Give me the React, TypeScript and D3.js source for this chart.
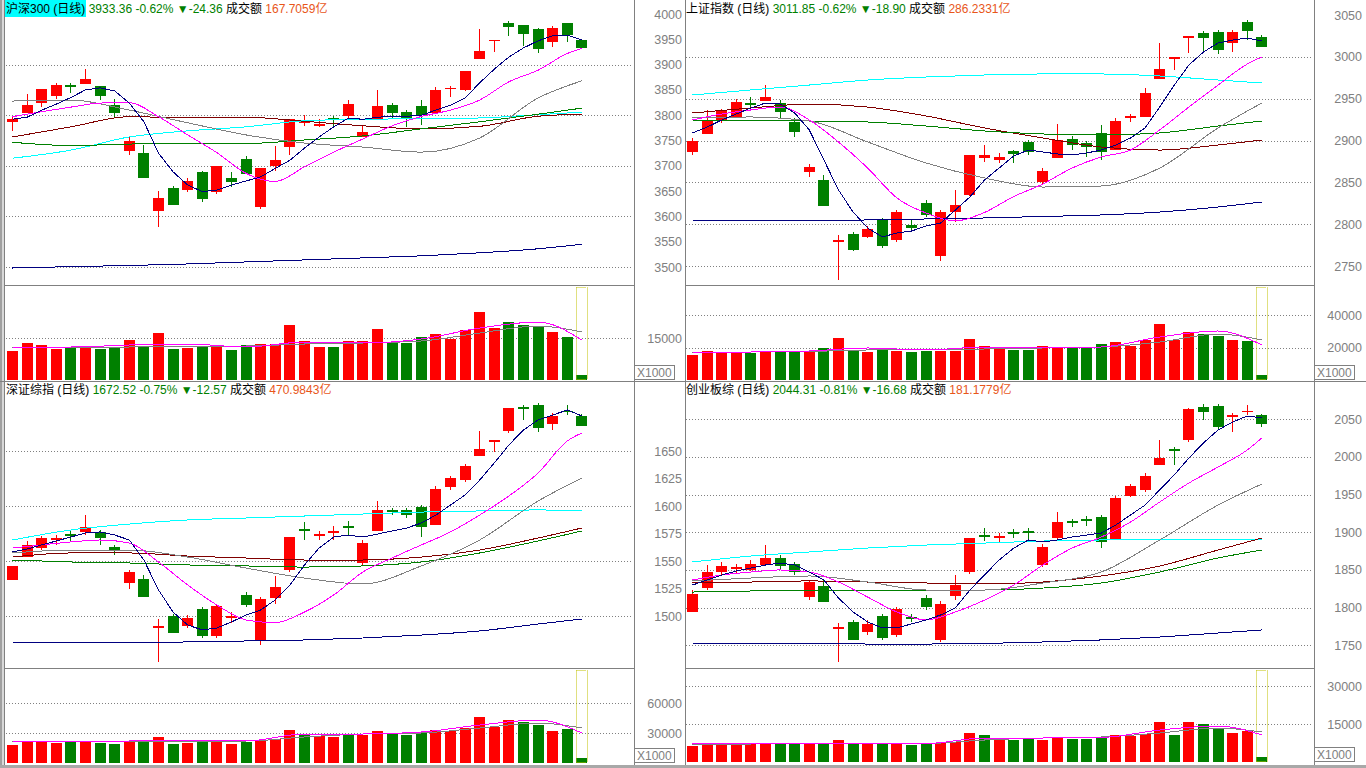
import React from 'react';
import * as d3 from 'd3';

type Candle = [number, number, number, number]; // open, high, low, close

// sample positions (candle index) of the moving-average readings
const IDX_ALL = d3.range(40);
const IDX_EVEN = [0, 2, 4, 6, 8, 10, 12, 14, 16, 18, 20, 22, 24, 26, 28, 30, 32, 34, 36, 38, 39];
const IDX_SPARSE = [0, 4, 8, 12, 16, 20, 24, 28, 32, 36, 39];

// ---------------- 沪深300 ----------------
const hs300Candles: Candle[] = [
  [3786, 3797, 3769, 3792], [3805, 3842, 3805, 3820], [3823.5, 3852, 3816, 3851], [3837, 3863, 3833, 3859],
  [3860, 3864, 3844.5, 3856], [3862, 3891, 3862, 3872], [3858, 3858, 3831, 3837], [3820, 3832, 3797, 3805],
  [3730, 3756, 3721, 3749], [3725, 3741, 3676, 3676.5], [3611, 3650, 3578.5, 3636], [3656, 3661, 3623, 3623],
  [3653, 3676.5, 3648, 3670], [3688, 3690, 3629, 3635], [3649, 3700, 3645, 3700], [3676, 3688, 3659, 3667],
  [3713.5, 3720, 3684, 3684], [3619, 3696, 3614, 3696], [3700, 3739, 3690, 3711.5], [3738, 3792, 3721, 3792],
  [3785, 3800, 3779, 3787], [3779, 3792.5, 3776, 3783], [3795, 3798, 3774, 3792], [3799, 3830, 3792, 3822],
  [3757.5, 3779, 3756, 3767], [3793, 3850, 3793, 3818], [3820, 3824, 3793, 3805], [3806, 3810, 3776, 3792.5],
  [3818, 3830, 3781, 3800], [3804, 3856, 3804, 3850], [3853, 3858, 3835, 3854.5], [3850, 3887, 3848, 3887],
  [3912, 3970, 3912, 3926], [3947, 3949, 3924, 3949], [3982, 3986, 3957, 3975], [3978, 3978, 3937, 3961],
  [3970, 3973, 3923.5, 3931], [3945, 3976, 3935, 3972], [3982, 3982, 3945, 3957.72], [3949, 3950.6, 3933, 3933.36],
];
const hs300Vol = [10460, 13316, 12495, 11174, 11674, 12138, 11174, 11674, 14280, 11781, 16779, 11067, 11424, 12138,
  12138, 10710, 12495, 12852, 12852, 19635, 13923, 11781, 11781, 13923, 13923, 18207, 13566, 13209, 15351, 16422,
  14637, 17850, 24276, 18564, 20706, 19635, 19278, 17136, 15351, 1785];
const hs300Ma5 = [3792, 3796, 3810, 3822, 3835, 3850, 3854, 3848, 3824, 3787, 3725, 3688, 3662, 3649, 3652, 3662, 3670,
  3678, 3695, 3711, 3735, 3757, 3777, 3794, 3792, 3796, 3798, 3798, 3800, 3810, 3820, 3834, 3864, 3891, 3915, 3933,
  3947, 3957, 3958, 3949];
const hs300Ma10 = [3797, 3807, 3816, 3824, 3825, 3797, 3761, 3726, 3685, 3669, 3698, 3727, 3753, 3779, 3797.5, 3810,
  3830, 3866, 3889, 3922, 3932];
const hs300Ma20 = [3828, 3830, 3810, 3785, 3761, 3745, 3737, 3727, 3755, 3834, 3868];
const hs300Ma30 = [3746.5, 3740, 3743, 3744, 3744, 3751, 3759, 3773, 3787, 3802, 3814];
const hs300Ma60 = [3757, 3777, 3797, 3795, 3796, 3788, 3779, 3773, 3778, 3798, 3802];
const hs300Ma120 = [3715, 3731, 3757, 3769, 3777, 3789, 3792, 3793, 3794.5, 3801, 3806];
const hs300Ma250 = [3498, 3500.7, 3503, 3506, 3510, 3514, 3518, 3522, 3528, 3536, 3545];
const hs300VolMa5 = [11781, 11781, 12495, 12852, 11781, 13566, 13209, 14637, 18564, 20706, 14280];
const hs300VolMa10 = [11424, 11603, 11781, 12138, 12138, 12852, 13209, 13923, 16779, 19278, 17136];
const hs300Ticks = [3500, 3550, 3600, 3650, 3700, 3750, 3800, 3850, 3900, 3950, 4000];
const hs300Grid = [3500, 3600, 3700, 3800, 3900];
const hs300VolTicks = [15000];

// ---------------- 上证指数 ----------------
const shCandles: Candle[] = [
  [2886, 2903, 2882.7, 2899.4], [2908, 2936.4, 2908, 2923], [2923, 2938, 2921, 2936.4], [2928, 2949.6, 2928, 2946],
  [2945, 2952, 2936.4, 2942.4], [2947, 2966, 2947, 2952], [2945, 2948, 2927, 2934], [2922, 2927, 2904, 2910],
  [2862, 2872, 2856, 2868], [2853, 2859, 2821.7, 2821.7], [2778.7, 2787, 2733, 2781], [2788, 2790.6, 2768, 2769],
  [2784.7, 2797.8, 2783.5, 2794], [2805, 2807.4, 2771.5, 2774], [2781, 2817, 2778.7, 2814.5], [2799, 2805, 2790.6, 2795.4],
  [2825.3, 2829, 2808.6, 2811], [2762, 2817, 2756, 2814.5], [2814.5, 2841, 2802.6, 2823], [2835, 2882.7, 2833.7, 2882.7],
  [2879, 2894.6, 2874, 2882.7], [2876.7, 2885, 2873, 2880], [2887.5, 2888.6, 2873, 2884], [2898, 2900.6, 2882.7, 2886],
  [2850.4, 2867, 2847, 2863.5], [2879, 2920, 2879, 2900.6], [2902, 2905, 2888.6, 2894.6], [2897, 2899.4, 2880, 2892],
  [2909, 2918.5, 2876.7, 2886], [2888.6, 2927, 2888.6, 2923], [2927, 2931.7, 2922, 2929], [2928, 2963, 2928, 2957],
  [2973.5, 3016.5, 2973.5, 2985.5], [2997.4, 3000, 2984, 3000], [3022.5, 3025, 3004.6, 3025], [3028.5, 3031, 3004.6, 3022.5],
  [3029.7, 3032, 3003.4, 3008], [3016.5, 3032, 3006, 3029.7], [3041.6, 3044, 3020, 3030.75], [3023.7, 3026, 3011.85, 3011.85],
];
const shVol = [15385, 17847, 17231, 16616, 16616, 17231, 17231, 17847, 17231, 19693, 25847, 18462, 17231, 18462, 17847,
  17231, 17847, 17847, 17847, 25231, 20924, 19077, 18462, 18462, 20924, 20308, 19693, 19693, 22154, 23385, 20924, 24616,
  34462, 24616, 29539, 28308, 27078, 24616, 24000, 3077];
const shMa5 = [2909, 2916, 2924.5, 2931.7, 2938.9, 2944.8, 2943.6, 2932.9, 2912.6, 2876.7, 2840.8, 2814.5, 2795.4,
  2784.7, 2789.4, 2791.8, 2797.8, 2801.4, 2816.9, 2832.5, 2852.8, 2867.1, 2881.5, 2888.6, 2886.3, 2883.9, 2882.7,
  2885.1, 2888.6, 2894.6, 2903, 2915, 2940, 2966.3, 2990.2, 3005.8, 3016.5, 3020.1, 3022.5, 3018.9];
const shMa10 = [2924.5, 2931.7, 2936.5, 2940, 2924.5, 2898.2, 2867.1, 2831.3, 2813.3, 2803.8, 2814, 2833, 2848,
  2867.1, 2880.3, 2888.6, 2912.6, 2940, 2966.3, 2991.4, 2999.8];
const shMa20 = [2926.9, 2928.1, 2923.3, 2898.2, 2873.1, 2855.2, 2844.4, 2845.6, 2867.1, 2915, 2944.8];
const shMa30 = [2924.5, 2924.5, 2923.3, 2922.1, 2917.3, 2911.4, 2907.8, 2906.6, 2909, 2917.3, 2923.3];
const shMa60 = [2932.9, 2938.9, 2943.6, 2940, 2929.3, 2915, 2903, 2892.2, 2888.6, 2894.6, 2900.6];
const shMa120 = [2954.4, 2960.4, 2966.3, 2972.3, 2975.9, 2978.3, 2979.5, 2979.5, 2977.1, 2972.3, 2968.7];
const shMa250 = [2803.8, 2803.8, 2804.4, 2805, 2806.2, 2807.4, 2809.2, 2811, 2814.5, 2820.5, 2826.5];
const shVolMa5 = [17231, 17231, 17847, 19693, 18462, 20308, 19693, 20308, 26462, 30155, 21539];
const shVolMa10 = [16924, 17231, 17539, 18462, 18462, 19077, 19693, 20308, 23385, 28308, 24616];
const shTicks = [2750, 2800, 2850, 2900, 2950, 3000, 3050];
const shGrid = [2750, 2800, 2850, 2900, 2950, 3000];
const shVolTicks = [20000, 40000];

// ---------------- 深证综指 ----------------
const szCandles: Candle[] = [
  [1532.7, 1545.5, 1532.7, 1545.5], [1553.6, 1568, 1553.6, 1564.5], [1562, 1572.7, 1560, 1571], [1569, 1573.6, 1564.5, 1571],
  [1574.5, 1577, 1568, 1572.7], [1576.4, 1592, 1573.6, 1581], [1576.4, 1578, 1564.5, 1571], [1562.5, 1564.5, 1555.5, 1560],
  [1530, 1542, 1524.5, 1540], [1533.6, 1537, 1517.3, 1517.3], [1489, 1497, 1458, 1491], [1500, 1502, 1484.5, 1484.5],
  [1491, 1501, 1489, 1498], [1506, 1508, 1480, 1482], [1482, 1511, 1480, 1509], [1498, 1503.6, 1493.6, 1500],
  [1519, 1522, 1508, 1510], [1477, 1517.3, 1473.6, 1515.5], [1516.4, 1536.4, 1511, 1526], [1542, 1572, 1540, 1572],
  [1579, 1585.5, 1569, 1577], [1572.7, 1577, 1569, 1574.5], [1575.5, 1582, 1569, 1577], [1582, 1586.4, 1573.6, 1580],
  [1548, 1569, 1546, 1566], [1577, 1604.5, 1577, 1596.4], [1596.4, 1598, 1592, 1594.5], [1596.4, 1598, 1589, 1592],
  [1599, 1601, 1572, 1581], [1582.7, 1618, 1582.7, 1615.5], [1617, 1627, 1614.5, 1625.5], [1623.6, 1638, 1622, 1636],
  [1645.5, 1668, 1645.5, 1652], [1658, 1660, 1649, 1660], [1668, 1689, 1666, 1689], [1690, 1691.8, 1678, 1688],
  [1691.8, 1693.6, 1667, 1671], [1674.5, 1684.5, 1669, 1681.8], [1686.4, 1691.8, 1682.7, 1685.09], [1681.8, 1683.6, 1672.52, 1672.52],
];
const szVol = [18000, 22000, 21000, 20000, 21000, 21000, 20000, 19000, 22000, 21000, 26000, 19000, 20000, 22000, 21000,
  19000, 21000, 22000, 24000, 33000, 29000, 27000, 26000, 28000, 28000, 32000, 29000, 28000, 30000, 33000, 32000,
  35000, 46000, 36000, 43000, 41000, 38000, 32000, 34000, 5000];
const szMa5 = [1558.2, 1560.9, 1564.6, 1568.2, 1571.8, 1575.5, 1576.4, 1573.6, 1569.1, 1550.9, 1523.6, 1503.6, 1491.8,
  1487.3, 1489.1, 1494.6, 1500.9, 1505.5, 1514.6, 1528.2, 1546.4, 1561.8, 1571.8, 1573.6, 1571.8, 1574.5, 1577.3, 1580,
  1584.5, 1591.8, 1600.9, 1610, 1623.6, 1639.1, 1655.5, 1669.1, 1678.2, 1682.7, 1687.3, 1681.8];
const szMa10 = [1561.8, 1564.6, 1567.3, 1569.1, 1566.4, 1549.1, 1528.2, 1510, 1496.4, 1494, 1503.6, 1519.1, 1540,
  1552.7, 1564.6, 1576.4, 1591.8, 1609.1, 1630, 1659.1, 1666.4];
const szMa20 = [1557.3, 1560, 1560, 1553.6, 1543.6, 1534.5, 1529.1, 1545.5, 1569.1, 1604.5, 1625.5];
const szMa30 = [1550.9, 1549.1, 1548.2, 1546.4, 1545.5, 1544.5, 1545.5, 1549.1, 1557.3, 1568.2, 1577.3];
const szMa60 = [1553.6, 1557.3, 1557.3, 1554.5, 1552.7, 1550.9, 1550.9, 1553.6, 1560, 1570.9, 1580];
const szMa120 = [1569.1, 1578.2, 1583.6, 1587.3, 1589.1, 1590.9, 1592.7, 1594.5, 1595.5, 1596.4, 1595.5];
const szMa250 = [1475.5, 1475.5, 1475.9, 1476.4, 1477.3, 1478.2, 1480, 1482.7, 1486.4, 1492.7, 1497.3];
const szVolMa5 = [22000, 22000, 22000, 23000, 22000, 29000, 29000, 31000, 38000, 43000, 30000];
const szVolMa10 = [21000, 21500, 22000, 22000, 22000, 26000, 29000, 30000, 35000, 40000, 35000];
const szTicks = [1500, 1525, 1550, 1575, 1600, 1625, 1650];
const szGrid = [1500, 1550, 1600, 1650];
const szVolTicks = [30000, 60000];

// ---------------- 创业板综 ----------------
const cyCandles: Candle[] = [
  [1794.2, 1823.4, 1794.2, 1818], [1826, 1856.6, 1823.4, 1847.3], [1847.3, 1860.5, 1843.3, 1855.3], [1851.3, 1857.9, 1846, 1854],
  [1850, 1863.2, 1848.6, 1857.9], [1856.6, 1883, 1855.3, 1866], [1866, 1870, 1850, 1855.3], [1857.9, 1860.5, 1843.3, 1847.3],
  [1814, 1836.7, 1810, 1834], [1828.7, 1836.7, 1807.5, 1807.5], [1771.7, 1780, 1728, 1774.4], [1781, 1783.6, 1757.1, 1757.1],
  [1767.7, 1783.6, 1763.7, 1778.4], [1789, 1791.6, 1757.1, 1759.8], [1763.7, 1800.8, 1761, 1798.2], [1787.6, 1791.6, 1781, 1785],
  [1812.8, 1816.8, 1796.9, 1800.8], [1757.1, 1808.8, 1754.5, 1804.7], [1815.5, 1843.3, 1810, 1830], [1847.3, 1892, 1844.6, 1892],
  [1896, 1905.3, 1888.4, 1893.3], [1892, 1898.6, 1887, 1894.7], [1900, 1904, 1892, 1897.3], [1901.3, 1905.3, 1887, 1898.6],
  [1856.6, 1884.5, 1854, 1880.5], [1892, 1927, 1889.8, 1913.6], [1915, 1917.6, 1906.7, 1912.2], [1917.6, 1921.6, 1908, 1915],
  [1920, 1923, 1879, 1887], [1889.8, 1948, 1889.8, 1945.5], [1948, 1964, 1947, 1961.5], [1956, 1978.7, 1953.5, 1974.6],
  [1989.3, 2022.5, 1989.3, 1998.6], [2010.3, 2013, 1989.3, 2007.6], [2022.5, 2065, 2020, 2063.7], [2066.3, 2070.3, 2049, 2059.7],
  [2067.7, 2070.3, 2035.8, 2039.8], [2053, 2058.4, 2033, 2055.7], [2059.7, 2069, 2055.7, 2060.99], [2055.7, 2057, 2039.8, 2044.31],
];
const cyVol = [6315, 7500, 7105, 7105, 7105, 7105, 7105, 7105, 7500, 7500, 8683, 7105, 7105, 7500, 7105, 6710, 7105,
  7500, 7894, 11446, 10657, 9078, 8683, 9078, 8683, 9868, 9078, 9078, 9473, 10657, 10262, 11052, 15788, 10657, 15788,
  14999, 13420, 11446, 12236, 1974];
const cyMa5 = [1830, 1836.7, 1843.3, 1848.6, 1852.6, 1856.6, 1859.2, 1856.6, 1847.3, 1836.7, 1812.8, 1794.2, 1781,
  1773, 1773, 1778.4, 1783.6, 1790.3, 1799.5, 1823.4, 1843.3, 1863.2, 1879, 1889.8, 1887.1, 1889.8, 1893.7, 1896.4,
  1899, 1909.7, 1923, 1936.2, 1956.3, 1976.2, 1998.6, 2018.6, 2035.8, 2046.4, 2054.4, 2051.8];
const cyMa10 = [1836.7, 1843.3, 1847.3, 1850, 1847.3, 1834, 1814, 1794.2, 1783.6, 1794.2, 1810, 1830, 1856.6, 1879,
  1893.7, 1913.6, 1940.2, 1965.4, 1986.7, 2009.3, 2025.2];
const cyMa20 = [1835.4, 1839.3, 1842, 1834, 1823.4, 1823.4, 1832.7, 1847.3, 1889.8, 1936.2, 1964.1];
const cyMa30 = [1820.7, 1822.1, 1823.4, 1823.4, 1823.4, 1823.4, 1826, 1832.7, 1847.3, 1865.9, 1876.5];
const cyMa60 = [1832.7, 1834, 1835.4, 1834, 1832.7, 1831.4, 1834, 1842, 1855.3, 1876.5, 1892.4];
const cyMa120 = [1860.6, 1868.5, 1873.9, 1879.1, 1883.1, 1885.7, 1888.4, 1889.8, 1891.1, 1891.1, 1891.1];
const cyMa250 = [1753, 1753, 1753, 1751.7, 1751.7, 1752.4, 1754.4, 1757.1, 1761, 1766.3, 1770.4];
const cyVolMa5 = [7105, 7302, 7500, 7500, 7302, 9473, 9473, 9670, 12630, 14209, 10657];
const cyVolMa10 = [6907, 7105, 7302, 7302, 7302, 8683, 9473, 9868, 11446, 13420, 11841];
const cyTicks = [1750, 1800, 1850, 1900, 1950, 2000, 2050];
const cyGrid = [1750, 1800, 1850, 1900, 1950, 2000, 2050];
const cyVolTicks = [15000, 30000];

const FONT = '"Liberation Sans", Arial, "Noto Sans CJK SC", sans-serif';
const GRAY = '#808080';
const UP = '#ff0000';
const DOWN = '#008000';
const STEP = 14.6;

interface MaLine { idx: number[]; values: number[]; color: string; curve: boolean }
interface PanelCfg {
  name: string; price: string; pct: string; chg: string; amount: string; active?: boolean;
  left: number; headerY: number; axisX: number;
  candles: Candle[]; vol: number[];
  mas: MaLine[]; volMas: MaLine[];
  priceDomain: [number, number]; priceRange: [number, number];
  ticks: number[]; grid: number[];
  volMax: number; volMaxY: number; volBottom: number; volTop: number; volTicks: number[];
}

const maSet = (m5: number[], m10: number[], m20: number[], m30: number[], m60: number[], m120: number[], m250: number[]): MaLine[] => [
  { idx: IDX_SPARSE, values: m250, color: '#000080', curve: true },
  { idx: IDX_SPARSE, values: m120, color: '#00ffff', curve: true },
  { idx: IDX_SPARSE, values: m60, color: '#800000', curve: true },
  { idx: IDX_SPARSE, values: m30, color: '#008000', curve: true },
  { idx: IDX_SPARSE, values: m20, color: '#808080', curve: true },
  { idx: IDX_EVEN, values: m10, color: '#ff00ff', curve: true },
  { idx: IDX_ALL, values: m5, color: '#000080', curve: false },
];
const volSet = (v5: number[], v10: number[]): MaLine[] => [
  { idx: IDX_SPARSE, values: v10, color: '#808080', curve: true },
  { idx: IDX_SPARSE, values: v5, color: '#ff00ff', curve: true },
];

const panels: PanelCfg[] = [
  {
    name: '沪深300', price: '3933.36', pct: '-0.62%', chg: '▼-24.36', amount: '167.7059亿', active: true,
    left: 5, headerY: 13, axisX: 682, candles: hs300Candles, vol: hs300Vol,
    mas: maSet(hs300Ma5, hs300Ma10, hs300Ma20, hs300Ma30, hs300Ma60, hs300Ma120, hs300Ma250),
    volMas: volSet(hs300VolMa5, hs300VolMa10),
    priceDomain: [3500, 4000], priceRange: [267, 14], ticks: hs300Ticks, grid: hs300Grid,
    volMax: 15000, volMaxY: 338, volBottom: 380, volTop: 287, volTicks: hs300VolTicks,
  },
  {
    name: '上证指数', price: '3011.85', pct: '-0.62%', chg: '▼-18.90', amount: '286.2331亿',
    left: 685, headerY: 13, axisX: 1362, candles: shCandles, vol: shVol,
    mas: maSet(shMa5, shMa10, shMa20, shMa30, shMa60, shMa120, shMa250),
    volMas: volSet(shVolMa5, shVolMa10),
    priceDomain: [2750, 3050], priceRange: [266, 15], ticks: shTicks, grid: shGrid,
    volMax: 40000, volMaxY: 315, volBottom: 380, volTop: 287, volTicks: shVolTicks,
  },
  {
    name: '深证综指', price: '1672.52', pct: '-0.75%', chg: '▼-12.57', amount: '470.9843亿',
    left: 5, headerY: 394, axisX: 682, candles: szCandles, vol: szVol,
    mas: maSet(szMa5, szMa10, szMa20, szMa30, szMa60, szMa120, szMa250),
    volMas: volSet(szVolMa5, szVolMa10),
    priceDomain: [1500, 1650], priceRange: [616, 451], ticks: szTicks, grid: szGrid,
    volMax: 60000, volMaxY: 703, volBottom: 763, volTop: 670, volTicks: szVolTicks,
  },
  {
    name: '创业板综', price: '2044.31', pct: '-0.81%', chg: '▼-16.68', amount: '181.1779亿',
    left: 685, headerY: 394, axisX: 1362, candles: cyCandles, vol: cyVol,
    mas: maSet(cyMa5, cyMa10, cyMa20, cyMa30, cyMa60, cyMa120, cyMa250),
    volMas: volSet(cyVolMa5, cyVolMa10),
    priceDomain: [1750, 2050], priceRange: [645.3, 419.3], ticks: cyTicks, grid: cyGrid,
    volMax: 30000, volMaxY: 686, volBottom: 762, volTop: 670, volTicks: cyVolTicks,
  },
];

function Panel({ p }: { p: PanelCfg }) {
  const x = d3.scaleLinear().domain([0, 39]).range([p.left + 7, p.left + 7 + 39 * STEP]);
  const y = d3.scaleLinear().domain(p.priceDomain).range(p.priceRange);
  const yv = d3.scaleLinear().domain([0, p.volMax]).range([p.volBottom, p.volMaxY]);
  const gridL = p.left + 1;
  const gridR = p.left + 627;

  const path = (m: MaLine, scale: d3.ScaleLinear<number, number>) =>
    d3.line<number>()
      .x((_, i) => x(m.idx[i]) + 0.5)
      .y(v => scale(v))
      .curve(m.curve ? d3.curveMonotoneX : d3.curveLinear)(m.values) || '';

  const lastX = Math.round(x(39));
  const bx0 = lastX - 5 + 0.5;
  const bx1 = lastX + 5 + 0.5;
  const by0 = p.volTop + 0.5;
  const by1 = p.volBottom - 0.5;

  return (
    <g>
      {/* grid */}
      {p.grid.map(v => (
        <line key={'g' + v} x1={gridL} x2={gridR} y1={Math.round(y(v)) + 0.5} y2={Math.round(y(v)) + 0.5}
          stroke={GRAY} strokeDasharray="1 2" />
      ))}
      {p.volTicks.map(v => (
        <line key={'vg' + v} x1={gridL} x2={gridR} y1={Math.round(yv(v)) + 0.5} y2={Math.round(yv(v)) + 0.5}
          stroke={GRAY} strokeDasharray="1 2" />
      ))}

      {/* candles */}
      {p.candles.map(([o, h, l, c], i) => {
        const cx = Math.round(x(i));
        const up = c >= o;
        const col = up ? UP : DOWN;
        const top = Math.round(y(Math.max(o, c)));
        const bot = Math.round(y(Math.min(o, c)));
        return (
          <g key={'c' + i} shapeRendering="crispEdges">
            <rect x={cx} y={Math.round(y(h))} width={1} height={Math.max(1, Math.round(y(l)) - Math.round(y(h)))} fill={col} />
            <rect x={cx - 5} y={top} width={11} height={Math.max(1, bot - top)} fill={col} />
          </g>
        );
      })}

      {/* volume bars */}
      {p.vol.map((v, i) => {
        const cx = Math.round(x(i));
        const [o, , , c] = p.candles[i];
        const top = Math.round(yv(v));
        return (
          <rect key={'v' + i} x={cx - 5} y={top} width={11} height={p.volBottom - top}
            fill={c >= o ? UP : DOWN} shapeRendering="crispEdges" />
        );
      })}
      {/* today's bar marker */}
      <g stroke="#c0c000" strokeDasharray="1 1" fill="none">
        <line x1={bx0} x2={bx1} y1={by0} y2={by0} />
        <line x1={bx0} x2={bx1} y1={by1} y2={by1} />
        <line x1={bx0} x2={bx0} y1={by0} y2={by1} />
        <line x1={bx1 + 1} x2={bx1 + 1} y1={by0} y2={by1} />
      </g>

      {/* moving averages */}
      {p.mas.map((m, i) => (
        <path key={'m' + i} d={path(m, y)} fill="none" stroke={m.color} strokeWidth={1} shapeRendering="crispEdges" />
      ))}
      {p.volMas.map((m, i) => (
        <path key={'vm' + i} d={path(m, yv)} fill="none" stroke={m.color} strokeWidth={1} shapeRendering="crispEdges" />
      ))}

      {/* axis labels */}
      {p.ticks.map(v => (
        <text key={'t' + v} x={p.axisX} y={y(v)} dy="0.36em" textAnchor="end" fill={GRAY} fontSize={12.5}>{v}</text>
      ))}
      {p.volTicks.map(v => (
        <text key={'vt' + v} x={p.axisX} y={yv(v)} dy="0.36em" textAnchor="end" fill={GRAY} fontSize={12.5}>{v}</text>
      ))}
      <rect x={p.axisX - 47.5} y={p.volBottom - 14.5} width={40} height={14} fill="#fff" stroke={GRAY} />
      <text x={p.axisX - 45} y={p.volBottom - 3} fill={GRAY} fontSize={12}>X1000</text>

      {/* header */}
      {p.active && <rect x={5} y={p.headerY - 13} width={81} height={17} fill="#00ffff" />}
      <text x={p.left + 1} y={p.headerY} fontSize={12} style={{ whiteSpace: 'pre' }}>
        <tspan fill="#000">{`${p.name} (日线) `}</tspan>
        <tspan fill={DOWN}>{`${p.price} ${p.pct} ${p.chg} `}</tspan>
        <tspan fill="#000">{'成交额 '}</tspan>
        <tspan fill="#e8561a">{p.amount}</tspan>
      </text>
    </g>
  );
}

export default function App() {
  return (
    <div style={{ position: 'fixed', left: 0, top: 0, width: 1366, height: 768, background: '#fff' }}>
      <svg width={1366} height={768} style={{ display: 'block', fontFamily: FONT }}>
        <rect width={1366} height={768} fill="#fff" />
        {/* frame */}
        <g stroke={GRAY} shapeRendering="crispEdges">
          <rect x={0} y={0} width={2} height={768} fill="#a0a0a0" stroke="none" />
          <rect x={2} y={0} width={2} height={768} fill="#d8d8d8" stroke="none" />
          <line x1={4.5} x2={4.5} y1={0} y2={768} />
          <line x1={634.5} x2={634.5} y1={0} y2={768} />
          <line x1={685.5} x2={685.5} y1={0} y2={768} />
          <line x1={1314.5} x2={1314.5} y1={0} y2={768} />
          <line x1={5} x2={634} y1={285.5} y2={285.5} />
          <line x1={685} x2={1314} y1={285.5} y2={285.5} />
          <line x1={0} x2={1366} y1={381.5} y2={381.5} />
          <line x1={5} x2={634} y1={668.5} y2={668.5} />
          <line x1={685} x2={1314} y1={668.5} y2={668.5} />
          <rect x={0} y={765} width={1366} height={3} fill="#a8a8a8" stroke="none" />
        </g>
        {panels.map(p => <Panel key={p.name} p={p} />)}
      </svg>
    </div>
  );
}
